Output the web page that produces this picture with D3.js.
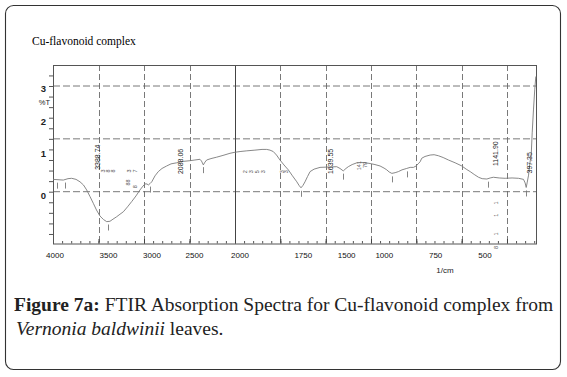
<!DOCTYPE html>
<html>
<head>
<meta charset="utf-8">
<script src="https://cdn.jsdelivr.net/npm/d3@7"></script>
<style>
  body { margin: 0; background: #fff; }
  svg { display: block; }
</style>
</head>
<body>
<div id="chart"></div>
<script>
// spectrum (wavenumber 1/cm, %T in axis units)
const wavenumber = [4000, 3887, 3835, 3795, 3747, 3703, 3665, 3630, 3593, 3557, 3522, 3484, 3445, 3410, 3374, 3341, 3300, 3264, 3227, 3181, 3135, 3088, 3044, 3011, 2989, 2967, 2953, 2934, 2915, 2879, 2843, 2802, 2751, 2703, 2641, 2571, 2495, 2440, 2385, 2368, 2348, 2330, 2311, 2264, 2201, 2132, 2055, 2000, 1972, 1935, 1890, 1851, 1825, 1807, 1789, 1771, 1752, 1730, 1706, 1683, 1659, 1647, 1636, 1625, 1614, 1600, 1586, 1564, 1531, 1487, 1439, 1421, 1403, 1388, 1375, 1354, 1328, 1294, 1255, 1228, 1200, 1178, 1163, 1150, 1135, 1117, 1099, 1079, 1053, 1034, 1016, 1001, 990, 979, 970, 952, 924, 902, 878, 852, 823, 786, 749, 725, 703, 681, 657, 637, 611, 593, 575, 543, 510, 472, 436, 409, 400, 394, 389, 381, 375, 366, 361, 354, 347, 341];
const transmittance = [0.35, 0.33, 0.37, 0.38, 0.35, 0.28, 0.19, 0.05, -0.14, -0.33, -0.52, -0.69, -0.79, -0.85, -0.84, -0.78, -0.71, -0.64, -0.57, -0.43, -0.28, -0.12, 0.05, 0.16, 0.22, 0.22, 0.19, 0.23, 0.28, 0.45, 0.57, 0.66, 0.73, 0.79, 0.82, 0.86, 0.88, 0.90, 0.92, 0.87, 0.76, 0.84, 0.90, 0.94, 0.98, 1.03, 1.09, 1.12, 1.14, 1.16, 1.18, 1.20, 1.20, 1.18, 1.14, 1.04, 0.90, 0.76, 0.62, 0.45, 0.28, 0.18, 0.11, 0.18, 0.28, 0.43, 0.57, 0.64, 0.69, 0.70, 0.71, 0.66, 0.59, 0.66, 0.71, 0.77, 0.82, 0.83, 0.80, 0.77, 0.73, 0.67, 0.62, 0.56, 0.52, 0.54, 0.57, 0.62, 0.66, 0.69, 0.69, 0.73, 0.79, 0.85, 0.95, 1.00, 1.04, 1.05, 1.02, 0.97, 0.90, 0.82, 0.73, 0.64, 0.57, 0.49, 0.41, 0.37, 0.36, 0.39, 0.41, 0.39, 0.38, 0.39, 0.38, 0.35, 0.25, 0.12, 0.25, 0.47, 0.76, 1.09, 1.67, 2.32, 2.89, 3.27];

// axis labels as printed
const xTickLabels = ["4000", "3500", "3000", "2500", "2000", "1750", "1500", "1000", "750", "500"];
const xTickValues = [4000, 3500, 3000, 2500, 2000, 1750, 1500, 1000, 750, 500];
const yTickLabels = ["3", "2", "1", "0"];
const yTickValues = [3, 2, 1, 0];

// picked peaks
const peakMarks = [3956, 3868, 3396, 2934, 2352, 1636, 1405, 1135, 1052, 605, 394];
const peakLabels = ["3388.74", "2088.06", "1639.55", "1141.90", "397.35"];
const peakLabelAt = [3500, 2593, 1467, 562, 373];
const peakLabelT = [0.98, 0.86, 0.86, 1.08, 0.82];

// half-printed peak labels
const fragText = ["3", "8", "8", ".", "3", "7", "88", "8", "2", "3", "5", "3", "3", "3", "141", "79", "1", "1", "1", "8"];
const fragWn = [3440, 3385, 3330, 3197, 3158, 3088, 3165, 3088, 1940, 1908, 1875, 1844, 1740, 1715, 1315, 1282, 555, 555, 555, 555];
const fragT = [0.59, 0.59, 0.59, 0.59, 0.59, 0.59, 0.26, 0.14, 0.57, 0.57, 0.57, 0.57, 0.57, 0.57, 0.74, 0.76, -0.32, -0.67, -1.2, -1.58];

// label nudges (px) so labels sit where the printout put them
const xLabelDx = [2, 10, 8, 5, 5, 23, 21, -32, -26, -22];
const yLabelDy = [3, 1, -2, 5];

const W = 567, H = 377;
const frame = {left: 53, right: 536, top: 65, bottom: 243.5};

const svg = d3.select("#chart").append("svg")
  .attr("width", W)
  .attr("height", H);

// outer rounded box
svg.append("rect")
  .attr("x", 5.5).attr("y", 5.5)
  .attr("width", 555).attr("height", 364)
  .attr("rx", 8)
  .attr("fill", "none")
  .attr("stroke", "#333")
  .attr("stroke-width", 1.1);

svg.append("text")
  .attr("x", 32).attr("y", 45)
  .style("font-family", "'Liberation Serif', serif")
  .style("font-size", "11.5px")
  .text("Cu-flavonoid complex");

// break at 2000: right half is twice as stretched
let x = d3.scaleLinear()
  .domain([4000, 2000, 340])
  .range([frame.left, 235, frame.right]);
let y = d3.scaleLinear([0, 3], [191.7, 86]);

let g = svg.append("g");

// grid
const vGrid = [3500, 3000, 2500, 1750, 1500, 1250, 1000, 750, 500];
g.selectAll(".vgrid")
  .data(vGrid)
  .join("line")
    .attr("x1", d => Math.round(x(d)) + 0.5)
    .attr("x2", d => Math.round(x(d)) + 0.5)
    .attr("y1", frame.top)
    .attr("y2", frame.bottom)
    .attr("stroke", "#6a6a6a")
    .attr("stroke-width", 0.9)
    .attr("stroke-dasharray", "6,3");
g.selectAll(".hgrid")
  .data([0, 1.5, 3])
  .join("line")
    .attr("x1", frame.left)
    .attr("x2", frame.right)
    .attr("y1", d => y(d))
    .attr("y2", d => y(d))
    .attr("stroke", "#6a6a6a")
    .attr("stroke-width", 0.9)
    .attr("stroke-dasharray", "7,3");
g.append("line")
  .attr("x1", x(2000) + 0.5).attr("x2", x(2000) + 0.5)
  .attr("y1", frame.top).attr("y2", frame.bottom)
  .attr("stroke", "#444");

// frame
g.append("rect")
  .attr("x", frame.left + 0.5).attr("y", frame.top + 0.5)
  .attr("width", frame.right - frame.left)
  .attr("height", frame.bottom - frame.top)
  .attr("fill", "none")
  .attr("stroke", "#555")
  .attr("stroke-width", 1);

// x ticks (inside)
const minorLeft = d3.range(3900, 2000, -100);
const minorRight = d3.range(1950, 340, -50);
g.append("g")
  .attr("transform", `translate(0,${frame.bottom})`)
  .call(d3.axisBottom(x).tickValues(minorLeft.concat(minorRight)).tickSize(-2.5).tickFormat(""))
  .call(a => a.select(".domain").remove())
  .selectAll("line").attr("stroke", "#555");
g.append("g")
  .attr("transform", `translate(0,${frame.bottom})`)
  .call(d3.axisBottom(x).tickValues([3500, 3000, 2500, 2000].concat(vGrid.slice(3))).tickSize(-4.5).tickFormat(""))
  .call(a => a.select(".domain").remove())
  .selectAll("line").attr("stroke", "#444");

// y ticks (outside)
g.append("g")
  .attr("transform", `translate(${frame.left},0)`)
  .call(d3.axisLeft(y).tickValues(d3.range(-1.2, 3.4, 0.3)).tickSize(4).tickFormat(""))
  .call(a => a.select(".domain").remove())
  .selectAll("line").attr("stroke", "#555");

// axis labels
g.selectAll(".xlab")
  .data(xTickLabels)
  .join("text")
    .attr("x", (d, i) => x(xTickValues[i]) + xLabelDx[i])
    .attr("y", 258)
    .attr("text-anchor", "middle")
    .style("font-family", "'Liberation Sans', Arial, sans-serif")
    .style("font-size", "8px")
    .style("fill", "#111")
    .text(d => d);
g.selectAll(".ylab")
  .data(yTickLabels)
  .join("text")
    .attr("x", 46)
    .attr("y", (d, i) => y(yTickValues[i]) + yLabelDy[i])
    .attr("text-anchor", "end")
    .attr("dominant-baseline", "middle")
    .style("font-family", "'Liberation Sans', Arial, sans-serif")
    .style("font-size", "9.5px")
    .style("font-weight", "bold")
    .style("fill", "#222")
    .text(d => d);
g.append("text")
  .attr("x", 50).attr("y", 105)
  .attr("text-anchor", "end")
  .style("font-family", "'Liberation Sans', Arial, sans-serif")
  .style("font-size", "7.5px")
  .style("fill", "#222")
  .text("%T");
g.append("text")
  .attr("x", 445).attr("y", 273)
  .attr("text-anchor", "middle")
  .style("font-family", "'Liberation Sans', Arial, sans-serif")
  .style("font-size", "8px")
  .style("fill", "#222")
  .text("1/cm");

// spectrum
const spectrum = wavenumber.map((w, i) => ({w: w, t: transmittance[i]}));
g.append("path")
  .datum(spectrum)
  .attr("fill", "none")
  .attr("stroke", "#7a7a7a")
  .attr("stroke-width", 0.9)
  .attr("d", d3.line().x(d => x(d.w)).y(d => y(d.t)));

// peak markers just below the trace
const tAt = w => {
  const i = d3.bisector(d => -d.w).left(spectrum, -w);
  const a = spectrum[Math.max(0, i - 1)], b = spectrum[Math.min(spectrum.length - 1, i)];
  if (a.w === b.w) return a.t;
  return a.t + (b.t - a.t) * (a.w - w) / (a.w - b.w);
};
g.selectAll(".peak")
  .data(peakMarks)
  .join("line")
    .attr("x1", d => Math.round(x(d)) + 0.5)
    .attr("x2", d => Math.round(x(d)) + 0.5)
    .attr("y1", d => y(tAt(d)) + 3)
    .attr("y2", d => y(tAt(d)) + 9)
    .attr("stroke", "#777")
    .attr("stroke-width", 0.9);

const rotText = (sel, size) => sel
  .attr("text-anchor", "middle")
  .attr("dominant-baseline", "middle")
  .style("font-family", "'Liberation Sans', Arial, sans-serif")
  .style("font-size", size)
  .style("fill", "#333");

g.selectAll(".plab")
  .data(peakLabels)
  .join("text")
    .attr("transform", (d, i) => `translate(${x(peakLabelAt[i])},${y(peakLabelT[i])}) rotate(-90)`)
    .call(rotText, "7px")
    .style("fill", "#222")
    .text(d => d);

g.selectAll(".frag")
  .data(fragText)
  .join("text")
    .attr("transform", (d, i) => `translate(${x(fragWn[i])},${y(fragT[i])}) rotate(-90)`)
    .call(rotText, "5.5px")
    .style("fill", "#555")
    .text(d => d);

// caption
const cap = svg.append("text")
  .attr("x", 14).attr("y", 311)
  .style("font-family", "'Liberation Serif', serif")
  .style("font-size", "19.5px")
  .style("fill", "#222");
cap.append("tspan").style("font-weight", "bold").text("Figure 7a:");
cap.append("tspan").text(" FTIR Absorption Spectra for Cu-flavonoid complex from");
const cap2 = svg.append("text")
  .attr("x", 16).attr("y", 335)
  .style("font-family", "'Liberation Serif', serif")
  .style("font-size", "19.5px")
  .style("fill", "#222");
cap2.append("tspan").style("font-style", "italic").text("Vernonia baldwinii");
cap2.append("tspan").text(" leaves.");
</script>
</body>
</html>
